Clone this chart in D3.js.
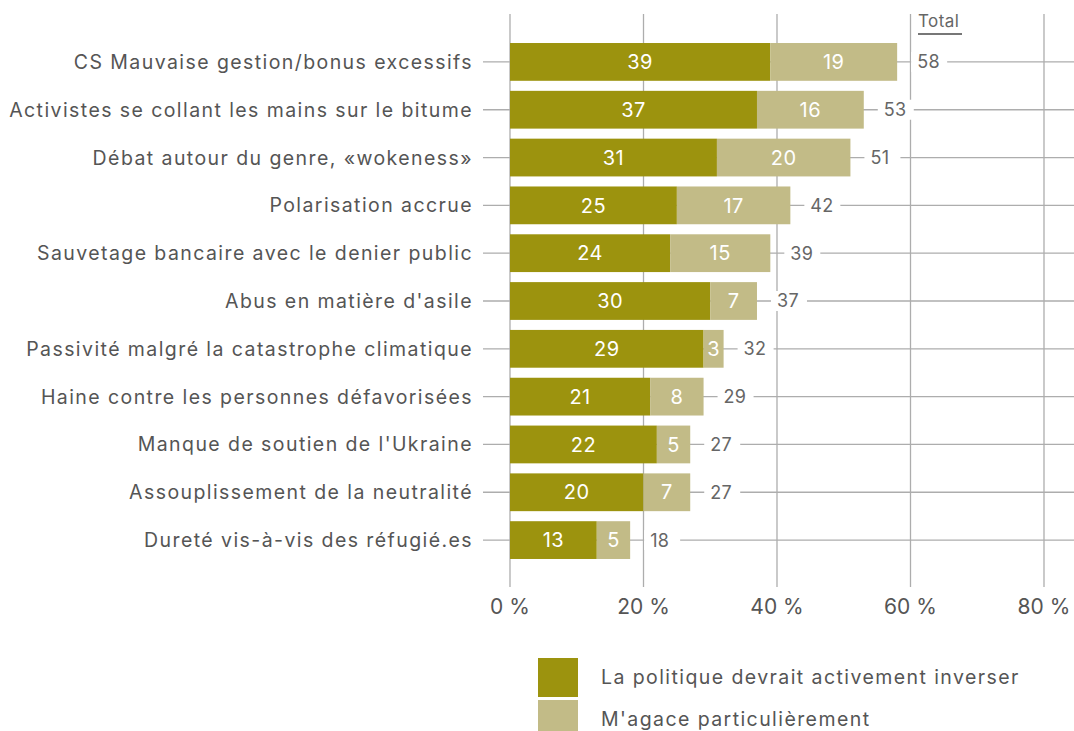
<!DOCTYPE html>
<html>
<head>
<meta charset="utf-8">
<script src="https://cdn.jsdelivr.net/npm/d3@7"></script>
<style>
  body { margin: 0; background: #fff; }
  svg { display: block; font-family: "Inter", "Roboto", sans-serif; }
</style>
</head>
<body>
<svg id="chart" width="1074" height="731"></svg>
<script>
const categories = [
  "CS Mauvaise gestion/bonus excessifs",
  "Activistes se collant les mains sur le bitume",
  "Débat autour du genre, «wokeness»",
  "Polarisation accrue",
  "Sauvetage bancaire avec le denier public",
  "Abus en matière d'asile",
  "Passivité malgré la catastrophe climatique",
  "Haine contre les personnes défavorisées",
  "Manque de soutien de l'Ukraine",
  "Assouplissement de la neutralité",
  "Dureté vis-à-vis des réfugié.es"
];
const inverser = [39, 37, 31, 25, 24, 30, 29, 21, 22, 20, 13];
const agace = [19, 16, 20, 17, 15, 7, 3, 8, 5, 7, 5];
const totals = [58, 53, 51, 42, 39, 37, 32, 29, 27, 27, 18];
const seriesNames = ["La politique devrait activement inverser", "M'agace particulièrement"];
const xTicks = [0, 20, 40, 60, 80];

const colors = ["#9c930e", "#c2bb87"];
const textColor = "#555";
const gridColor = "#adadad";

const svg = d3.select("#chart");
const x = d3.scaleLinear().domain([0, 80]).range([510, 1044]);
const y = d3.scaleBand().domain(categories).range([38, 564]).paddingInner(0.21).paddingOuter(0.105);
const gridTop = 14, gridBottom = 587;

// vertical grid
svg.append("g").selectAll("line").data(xTicks).join("line")
  .attr("x1", d => x(d)).attr("x2", d => x(d))
  .attr("y1", gridTop).attr("y2", gridBottom)
  .attr("stroke", gridColor).attr("stroke-width", 1.3);

// horizontal row lines
svg.append("g").selectAll("line").data(categories).join("line")
  .attr("x1", 483).attr("x2", 1074)
  .attr("y1", d => y(d) + y.bandwidth() / 2).attr("y2", d => y(d) + y.bandwidth() / 2)
  .attr("stroke", gridColor).attr("stroke-width", 1.3);

// category labels
svg.append("g").selectAll("text").data(categories).join("text")
  .attr("x", 473).attr("y", d => y(d) + y.bandwidth() / 2)
  .attr("dy", "0.36em").attr("text-anchor", "end")
  .attr("fill", textColor).attr("font-size", 19.5).attr("letter-spacing", 1.42)
  .text(d => d);

// stacked bars
const rows = categories.map((c, i) => ({ c, a: inverser[i], b: agace[i], t: totals[i] }));
const g = svg.append("g");
g.selectAll("rect.a").data(rows).join("rect").attr("class", "a")
  .attr("x", x(0)).attr("y", d => y(d.c))
  .attr("width", d => x(d.a) - x(0)).attr("height", y.bandwidth())
  .attr("fill", colors[0]);
g.selectAll("rect.b").data(rows).join("rect").attr("class", "b")
  .attr("x", d => x(d.a)).attr("y", d => y(d.c))
  .attr("width", d => x(d.a + d.b) - x(d.a)).attr("height", y.bandwidth())
  .attr("fill", colors[1]);

// values inside segments
g.selectAll("text.a").data(rows).join("text").attr("class", "a")
  .attr("x", d => (x(0) + x(d.a)) / 2).attr("y", d => y(d.c) + y.bandwidth() / 2)
  .attr("dy", "0.36em").attr("text-anchor", "middle")
  .attr("fill", "#fff").attr("font-size", 20).attr("letter-spacing", 0.5).text(d => d.a);
g.selectAll("text.b").data(rows).join("text").attr("class", "b")
  .attr("x", d => (x(d.a) + x(d.a + d.b)) / 2).attr("y", d => y(d.c) + y.bandwidth() / 2)
  .attr("dy", "0.36em").attr("text-anchor", "middle")
  .attr("fill", "#fff").attr("font-size", 20).attr("letter-spacing", 0.5).text(d => d.b);

// totals with white knock-out behind them
const tg = g.selectAll("g.total").data(rows).join("g").attr("class", "total");
tg.append("rect")
  .attr("x", d => x(d.t) + 14).attr("y", d => y(d.c) + y.bandwidth() / 2 - 10)
  .attr("width", 36).attr("height", 20).attr("fill", "#fff");
tg.append("text")
  .attr("x", d => x(d.t) + 20).attr("y", d => y(d.c) + y.bandwidth() / 2)
  .attr("dy", "0.36em").attr("fill", "#666").attr("font-size", 18).attr("letter-spacing", 0.3)
  .text(d => d.t);

// Total header
svg.append("text").attr("x", 918).attr("y", 27).attr("fill", "#666")
  .attr("font-size", 17).attr("letter-spacing", 0.4).text("Total");
svg.append("line").attr("x1", 918).attr("x2", 962).attr("y1", 34).attr("y2", 34)
  .attr("stroke", "#777").attr("stroke-width", 2);

// x axis labels
svg.append("g").selectAll("text").data(xTicks).join("text")
  .attr("x", d => x(d)).attr("y", 614)
  .attr("text-anchor", "middle").attr("fill", textColor).attr("font-size", 21)
  .text(d => d + " %");

// legend
const lg = svg.append("g").selectAll("g").data(seriesNames).join("g")
  .attr("transform", (d, i) => `translate(538, ${658 + i * 42})`);
lg.append("rect").attr("width", 40).attr("height", 39).attr("fill", (d, i) => colors[i]);
lg.append("text").attr("x", 63).attr("y", 19).attr("dy", "0.36em")
  .attr("fill", textColor).attr("font-size", 19.5).attr("letter-spacing", 1.42).text(d => d);
</script>
</body>
</html>
